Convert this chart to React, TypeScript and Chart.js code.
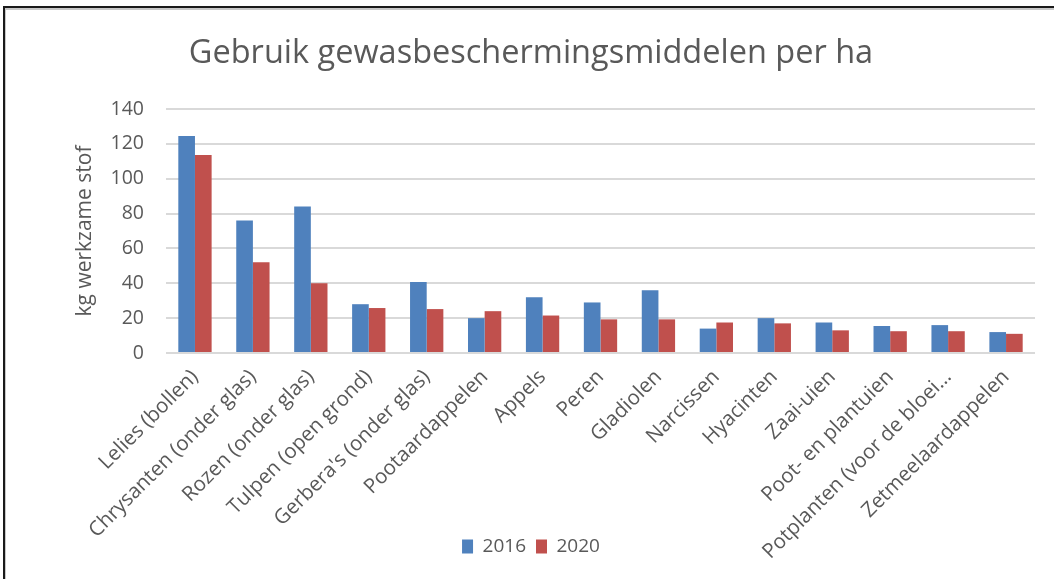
import React, { useEffect, useRef } from "react";
import { Chart, registerables } from "chart.js";

Chart.register(...registerables);

const titleText = "Gebruik gewasbeschermingsmiddelen per ha";
const yAxisTitle = "kg werkzame stof";
const categories = [
  "Lelies (bollen)",
  "Chrysanten (onder glas)",
  "Rozen (onder glas)",
  "Tulpen (open grond)",
  "Gerbera's (onder glas)",
  "Pootaardappelen",
  "Appels",
  "Peren",
  "Gladiolen",
  "Narcissen",
  "Hyacinten",
  "Zaai-uien",
  "Poot- en plantuien",
  "Potplanten (voor de bloei…",
  "Zetmeelaardappelen",
];
const seriesLabels = ["2016", "2020"];
const values2016 = [124.5, 76, 84, 28, 40.7, 20, 32, 29, 36, 14, 20, 17.5, 15.5, 16, 12];
const values2020 = [113.6, 52, 40, 25.8, 25.2, 24, 21.5, 19.3, 19.3, 17.5, 17, 13, 12.5, 12.5, 11];
const yMin = 0;
const yMax = 140;
const yStep = 20;

const FONT = "'Open Sans', 'Noto Sans', sans-serif";
const TEXT = "#595959";

const extendLabelClip = {
  id: "extendLabelClip",
  afterLayout(chart: any) {
    const x = chart.scales.x;
    if (x) x.bottom = chart.height;
  },
};

export default function App() {
  const ref = useRef<HTMLCanvasElement | null>(null);

  useEffect(() => {
    if (!ref.current) return;
    const chart = new Chart(ref.current, {
      type: "bar",
      data: {
        labels: categories,
        datasets: [
          {
            label: seriesLabels[0],
            data: values2016,
            backgroundColor: "#4F81BD",
            barPercentage: 1,
            categoryPercentage: 0.575,
          },
          {
            label: seriesLabels[1],
            data: values2020,
            backgroundColor: "#C0504D",
            barPercentage: 1,
            categoryPercentage: 0.575,
          },
        ],
      },
      options: {
        animation: false,
        responsive: false,
        maintainAspectRatio: false,
        layout: { padding: { left: 27, right: 19, top: 0, bottom: 13 } },
        plugins: {
          title: {
            display: true,
            text: titleText,
            color: TEXT,
            font: { family: FONT, size: 32.5, weight: "normal", lineHeight: 1.2 },
            padding: { top: 34, bottom: 36 },
          },
          legend: {
            display: true,
            position: "bottom",
            labels: {
              color: TEXT,
              font: { family: FONT, size: 19 },
              boxWidth: 11,
              boxHeight: 14,
              padding: 10,
            },
          },
          tooltip: { enabled: false },
        },
        scales: {
          x: {
            grid: { display: false },
            border: { display: false },
            ticks: {
              color: TEXT,
              font: { family: FONT, size: 20.5 },
              maxRotation: 45,
              minRotation: 45,
              autoSkip: false,
              padding: 4,
            },
            afterFit: (scale: any) => {
              scale.height = 174;
            },
          },
          y: {
            min: yMin,
            max: yMax,
            grid: { color: "#D9D9D9", lineWidth: 2, drawTicks: false },
            border: { display: false },
            ticks: {
              stepSize: yStep,
              color: TEXT,
              font: { family: FONT, size: 19.5 },
              padding: 22,
            },
            title: {
              display: true,
              text: yAxisTitle,
              color: TEXT,
              font: { family: FONT, size: 21 },
              padding: { top: 45, bottom: 0 },
            },
            afterFit: (scale: any) => {
              scale.width = 139;
            },
          },
        },
      },
      plugins: [extendLabelClip],
    });
    return () => chart.destroy();
  }, []);

  return (
    <div
      style={{
        position: "absolute",
        left: 0,
        top: 0,
        width: 1054,
        height: 579,
        overflow: "hidden",
        background: "#fff",
      }}
    >
      <div
        style={{
          position: "absolute",
          left: 3,
          top: 6,
          width: 1200,
          height: 800,
          borderLeft: "2px solid #1a1a1a",
          borderTop: "2px solid #1a1a1a",
          boxShadow: "inset 1px 2px 0 #c8c8c8",
        }}
      />
      <canvas
        ref={ref}
        width={1054}
        height={579}
        style={{ position: "absolute", left: 0, top: 0, width: 1054, height: 579 }}
      />
    </div>
  );
}
